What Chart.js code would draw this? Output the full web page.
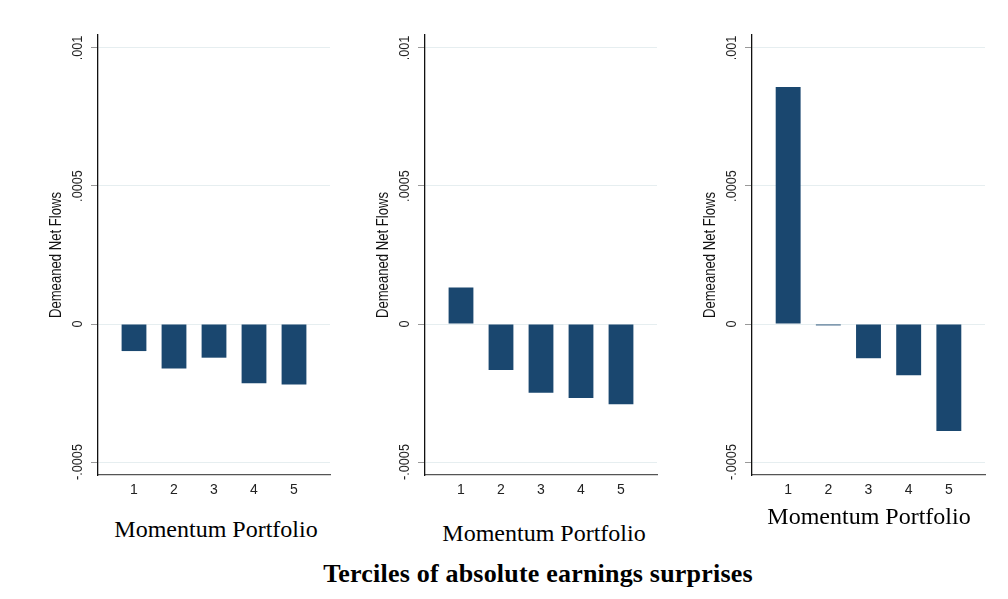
<!DOCTYPE html>
<html>
<head>
<meta charset="utf-8">
<script src="https://cdn.jsdelivr.net/npm/chart.js@4.4.1/dist/chart.umd.min.js"></script>
<style>
  html, body { margin: 0; padding: 0; background: #fff; }
  body { width: 1008px; height: 599px; position: relative; overflow: hidden; }
  canvas { position: absolute; top: 0; }
  .xtitle, .caption {
    position: absolute;
    font-family: "Liberation Serif", "Times New Roman", serif;
    line-height: 1;
    color: #000;
    white-space: nowrap;
    transform: translateX(-50%);
  }
  .xtitle { font-size: 24px; }
  .caption { font-size: 26px; font-weight: bold; letter-spacing: 0.2px; }
</style>
</head>
<body>
<canvas id="c1" width="340" height="500" style="left:0px"></canvas>
<canvas id="c2" width="340" height="500" style="left:327px"></canvas>
<canvas id="c3" width="340" height="500" style="left:654px"></canvas>

<div class="xtitle" style="left:216px; top:517px">Momentum Portfolio</div>
<div class="xtitle" style="left:544px; top:521px">Momentum Portfolio</div>
<div class="xtitle" style="left:869px; top:504px">Momentum Portfolio</div>
<div class="caption" style="left:538px; top:561px">Terciles of absolute earnings surprises</div>

<script>
// momentum portfolios (x categories)
const portfolios = [1, 2, 3, 4, 5];

// demeaned net flows, one array per tercile of absolute earnings surprises
const tercile1 = [-0.000098, -0.000161, -0.000122, -0.000215, -0.000219];
const tercile2 = [0.000132, -0.000167, -0.000249, -0.000268, -0.000291];
const tercile3 = [0.000859, -0.000005, -0.000124, -0.000186, -0.000388];

// y axis ticks and their labels
const yTicks = [-0.0005, 0, 0.0005, 0.001];
const yTickLabels = ["-.0005", "0", ".0005", ".001"];
const yTitle = "Demeaned Net Flows";

const barColor = "#1a476f";
const gridColor = "#e6eef0";

// Stata draws the y labels and title turned 90 degrees in a narrow face;
// no narrow font here, so squeeze Liberation Sans along the text direction
const narrowSans = '"Liberation Sans", Arial, sans-serif';

const rotatedYText = {
  id: "rotatedYText",
  afterDraw(chart) {
    const ctx = chart.ctx;
    const y = chart.scales.y;
    ctx.save();
    ctx.textAlign = "center";
    ctx.textBaseline = "middle";

    ctx.font = "15.5px " + narrowSans;
    ctx.fillStyle = "#222";
    y.ticks.forEach((t) => {
      const idx = yTicks.indexOf(t.value);
      ctx.save();
      ctx.translate(y.right - 20.5, y.getPixelForValue(t.value));
      ctx.rotate(-Math.PI / 2);
      ctx.scale(0.82, 1);
      ctx.fillText(idx >= 0 ? yTickLabels[idx] : String(t.value), 0, 0);
      ctx.restore();
    });

    ctx.font = "16px " + narrowSans;
    ctx.fillStyle = "#111";
    ctx.translate(y.right - 41.5, (y.top + y.bottom) / 2);
    ctx.rotate(-Math.PI / 2);
    ctx.scale(0.82, 1);
    ctx.fillText(yTitle, 0, 0);
    ctx.restore();
  },
};

function makeChart(id, values, rightPad) {
  return new Chart(document.getElementById(id), {
    type: "bar",
    data: {
      labels: portfolios,
      datasets: [
        {
          data: values,
          backgroundColor: barColor,
          borderWidth: 0,
          categoryPercentage: 1,
          barPercentage: 0.62,
        },
      ],
    },
    options: {
      responsive: false,
      animation: false,
      events: [],
      layout: { padding: { top: 35, right: rightPad, bottom: 0, left: 0 } },
      plugins: { legend: { display: false }, tooltip: { enabled: false } },
      scales: {
        x: {
          type: "linear",
          min: 0.1,
          max: 5.9,
          offset: false,
          afterBuildTicks: (s) => { s.ticks = portfolios.map((v) => ({ value: v })); },
          afterFit: (s) => { s.height = 25; },
          grid: { display: false, drawTicks: false, offset: false },
          border: { display: true, color: "#555", width: 1.2 },
          ticks: {
            padding: 7,
            color: "#222",
            font: { family: '"Liberation Sans", Arial, sans-serif', size: 14 },
            callback: (v) => String(v),
          },
        },
        y: {
          min: -0.000547,
          max: 0.001047,
          afterBuildTicks: (s) => { s.ticks = yTicks.map((v) => ({ value: v })); },
          afterFit: (s) => { s.width = 98; },
          grid: {
            color: gridColor,
            lineWidth: 1,
            drawTicks: true,
            tickLength: 7,
            tickColor: "#999",
          },
          border: { display: true, color: "#111", width: 1.3 },
          ticks: { display: false },
        },
      },
    },
    plugins: [rotatedYText],
  });
}

makeChart("c1", tercile1, 10);
makeChart("c2", tercile2, 10);
makeChart("c3", tercile3, 9);
</script>
</body>
</html>
